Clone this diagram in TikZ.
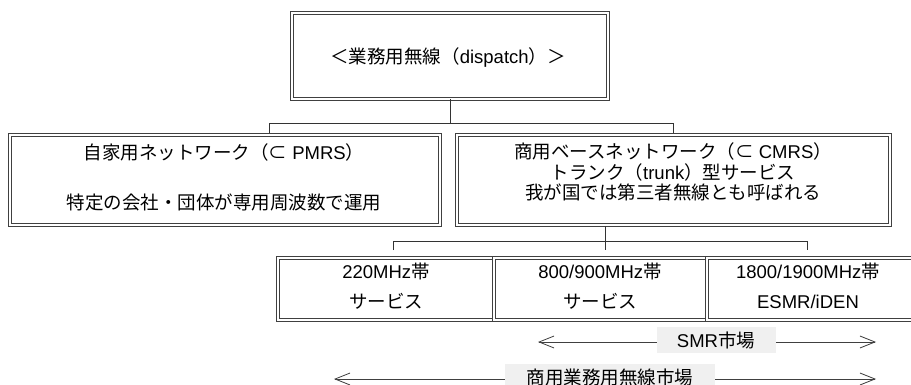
\documentclass[tikz,border=0pt]{standalone}
\usepackage{fontspec}
\setmainfont{Liberation Sans}
\newfontfamily\jpf{Noto Sans CJK JP}
\usetikzlibrary{arrows.meta}
\newcommand\J[1]{{\jpf #1}}
\begin{document}
\begin{tikzpicture}[x=1pt,y=-1pt,
  box/.style={draw=black!75, double=white, double distance=1.5pt, line width=1pt, inner sep=0pt, rectangle},
  txt/.style={inner sep=0pt, font=\fontsize{18.5}{20.5}\selectfont, align=center},
  conn/.style={draw=black!80, line width=0.8pt},
  arr/.style={draw=black!75, line width=0.8pt, {Straight Barb[length=15pt,width=12pt]}-{Straight Barb[length=15pt,width=12pt]}},
  mk/.style={fill=black!6, inner sep=0pt, minimum height=26pt, font=\fontsize{18.5}{20}\selectfont}
]
\clip (0,0) rectangle (911,385);
\fill[white] (0,0) rectangle (911,385);

% boxes
\node[box, minimum width=316pt, minimum height=86pt] (top) at (450,56) {};
\node[box, minimum width=430pt, minimum height=90pt] (lbox) at (225,180) {};
\node[box, minimum width=433pt, minimum height=90pt] (rbox) at (673.5,180) {};
\node[box, minimum width=216pt, minimum height=62pt] (b1) at (386,289) {};
\node[box, minimum width=213pt, minimum height=62pt] (b2) at (600.5,289) {};
\node[box, minimum width=213pt, minimum height=62pt] (b3) at (813.5,289) {};

% texts
\node[txt] (toptxt) at (448,58) {\J{＜業務用無線（}dispatch\J{）＞}};
\node[txt] (l1) at (224,152) {\J{自家用ネットワーク（⊂} PMRS\J{）}};
\node[txt] (l2) at (224,202) {\J{特定の会社・団体が専用周波数で運用}};
\node[txt] (rtxt) at (673,172) {\J{商用ベースネットワーク（⊂} CMRS\J{）}\\
  \J{トランク（}trunk\J{）型サービス}\\
  \J{我が国では第三者無線とも呼ばれる}};
\node[txt] (b1t) at (386,286) {220MHz\J{帯}\\[9pt]\J{サービス}};
\node[txt] (b2t) at (600,286) {800/900MHz\J{帯}\\[9pt]\J{サービス}};
\node[txt] (b3t) at (808,286) {1800/1900MHz\J{帯}\\[9pt]ESMR/iDEN};

% connectors top
\coordinate (j1) at (450,123);
\coordinate (j1l) at (269,123);
\coordinate (j1r) at (673,123);
\coordinate (e1l) at (269,133);
\coordinate (e1r) at (673,133);
\draw[conn] (top.south) -- (j1);
\draw[conn] (e1l) -- (j1l) -- (j1r) -- (e1r);

% connectors bottom
\coordinate (s2) at (605,226);
\coordinate (j2) at (605,241);
\coordinate (j2l) at (393,241);
\coordinate (j2r) at (807,241);
\coordinate (e2l) at (393,250);
\coordinate (e2r) at (807,250);
\coordinate (e2m) at (605,250);
\draw[conn] (s2) -- (e2m);
\draw[conn] (e2l) -- (j2l) -- (j2r) -- (e2r);

% market arrows
\coordinate (smrL) at (538,342);
\coordinate (smrR) at (876,342);
\coordinate (comL) at (334,379);
\coordinate (comR) at (876,379);
\draw[arr] (smrL) -- (smrR);
\draw[arr] (comL) -- (comR);
\node[mk, minimum width=119pt] (smr) at (716,340) {SMR\J{市場}};
\node[mk, minimum width=210pt] (com) at (610,377) {\J{商用業務用無線市場}};
\end{tikzpicture}
\end{document}
